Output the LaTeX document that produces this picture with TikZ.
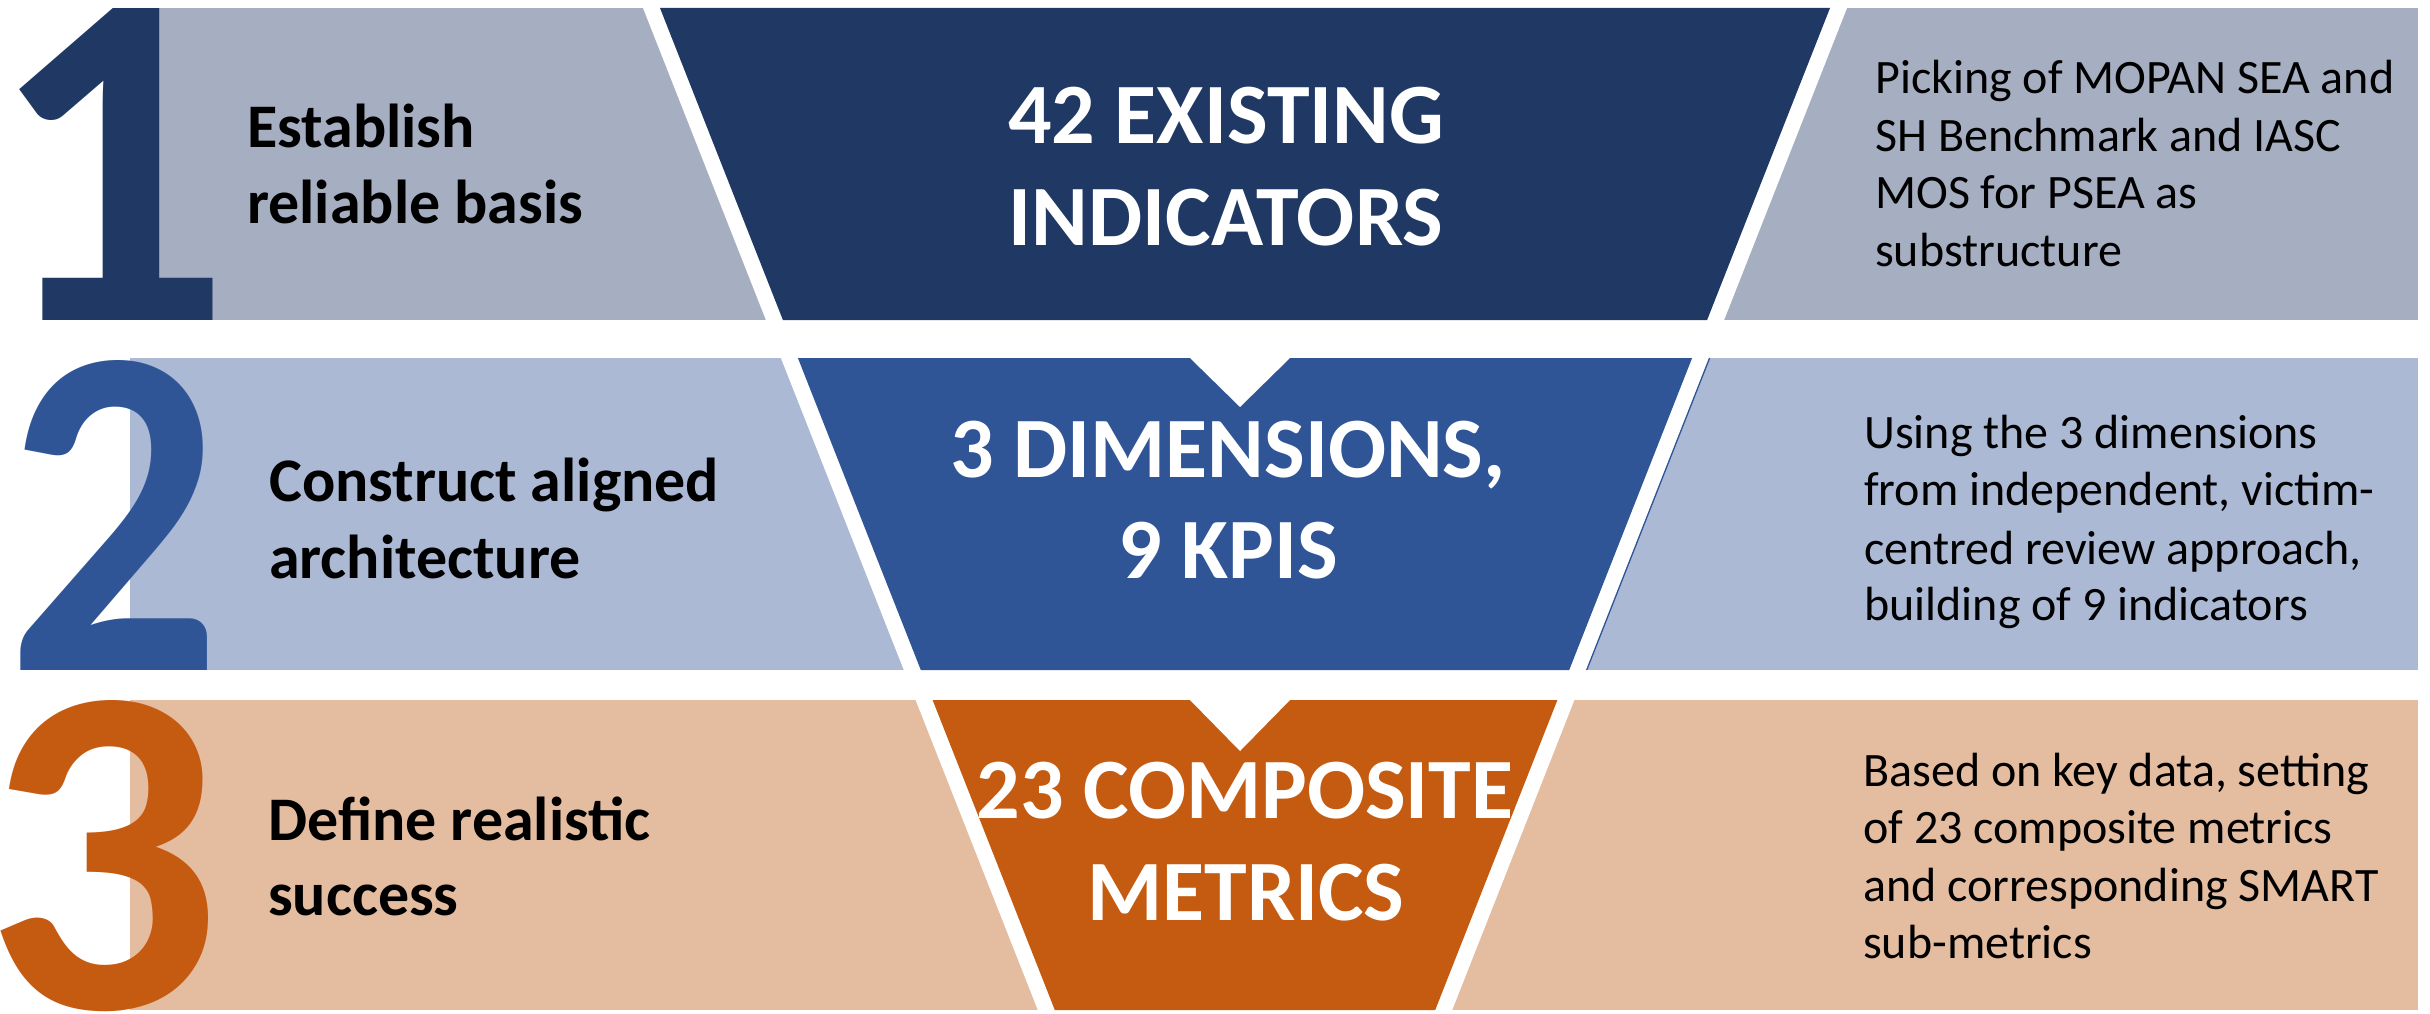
\documentclass[tikz,border=0pt]{standalone}
\usepackage{fontspec}
\setmainfont{Carlito}
\definecolor{navy}{HTML}{203864}
\definecolor{navyband}{HTML}{A6AEC1}
\definecolor{bluedark}{HTML}{2F5597}
\definecolor{blueband}{HTML}{ABB9D5}
\definecolor{orangedark}{HTML}{C55A11}
\definecolor{orangeband}{HTML}{E4BC9F}
\newcommand{\bigdigit}[3]{\scalebox{#1}[1]{\resizebox{!}{#2}{\fontsize{400}{400}\selectfont\bfseries #3}}}
\begin{document}
\begin{tikzpicture}[x=1pt,y=-1pt,
  bignum/.style={inner sep=0pt, anchor=base},
  lefttext/.style={inner sep=0pt, anchor=base west, font=\fontsize{62}{76}\selectfont\bfseries, text=black},
  midtext/.style={inner sep=0pt, anchor=base, font=\fontsize{86}{102}\selectfont\bfseries, text=white},
  righttext/.style={inner sep=0pt, anchor=base west, font=\fontsize{48}{57}\selectfont, text=black}]
\useasboundingbox (0,0) rectangle (2430,1014);
% ---- row 1
\fill[navyband] (130,8) rectangle (2418,320);
\fill[white] (643,8) -- (1847,8) -- (1724.1,320) -- (765.9,320) -- cycle;
\fill[navy] (660,8) -- (1830,8) -- (1707.1,320) -- (782.9,320) -- cycle;
% ---- row 2
\fill[blueband] (130,358) rectangle (2418,670);
\fill[white] (780.9,358) -- (1709.1,358) -- (1586.2,670) -- (903.8,670) -- cycle;
\fill[bluedark] (797.9,358) -- (1692.1,358) -- (1569.2,670) -- (920.8,670) -- cycle;
\fill[white] (1189,357) -- (1240,407) -- (1291,357) -- cycle;
\draw[bluedark, line width=1.3pt] (1709.6,358) -- (1586.7,670);
% ---- row 3
\fill[orangeband] (130,700) rectangle (2418,1010);
\fill[white] (915.6,700) -- (1574.4,700) -- (1452.2,1010) -- (1037.8,1010) -- cycle;
\fill[orangedark] (932.6,700) -- (1557.4,700) -- (1435.2,1010) -- (1054.8,1010) -- cycle;
\fill[white] (1189,699) -- (1240,751) -- (1291,699) -- cycle;
% ---- big numbers
\node[bignum, text=navy] (n1) at (109,320) {\bigdigit{1}{312pt}{1}};
\node[bignum, text=bluedark] (n2) at (114,670) {\bigdigit{0.9}{310pt}{2}};
\node[bignum, text=orangedark] (n3) at (103,1008) {\bigdigit{1}{308pt}{3}};
% ---- left labels
\node[lefttext] (l1a) at (247,147) {Establish};
\node[lefttext] (l1b) at (247,223) {reliable basis};
\node[lefttext] (l2a) at (269,501) {Construct aligned};
\node[lefttext] (l2b) at (269,578) {architecture};
\node[lefttext] (l3a) at (268,840) {Define realistic};
\node[lefttext] (l3b) at (268,915) {success};
% ---- centre labels
\node[midtext] (m1a) at (1226,143) {42 EXISTING};
\node[midtext] (m1b) at (1226,245) {INDICATORS};
\node[midtext] (m2a) at (1228,477) {3 DIMENSIONS,};
\node[midtext] (m2b) at (1228,578) {9 KPIS};
\node[midtext] (m3a) at (1245,818) {23 COMPOSITE};
\node[midtext] (m3b) at (1246,920) {METRICS};
% ---- right labels
\node[righttext] (r1a) at (1875,94) {Picking of MOPAN SEA and};
\node[righttext] (r1b) at (1875,151) {SH Benchmark and IASC};
\node[righttext] (r1c) at (1875,208) {MOS for PSEA as};
\node[righttext] (r1d) at (1875,266) {substructure};
\node[righttext] (r2a) at (1864,448) {Using the 3 dimensions};
\node[righttext] (r2b) at (1864,505) {from independent, victim-};
\node[righttext] (r2c) at (1864,564) {centred review approach,};
\node[righttext] (r2d) at (1864,620) {building of 9 indicators};
\node[righttext] (r3a) at (1863,786) {Based on key data, setting};
\node[righttext] (r3b) at (1863,843) {of 23 composite metrics};
\node[righttext] (r3c) at (1863,901) {and corresponding SMART};
\node[righttext] (r3d) at (1863,958) {sub-metrics};
\end{tikzpicture}
\end{document}
